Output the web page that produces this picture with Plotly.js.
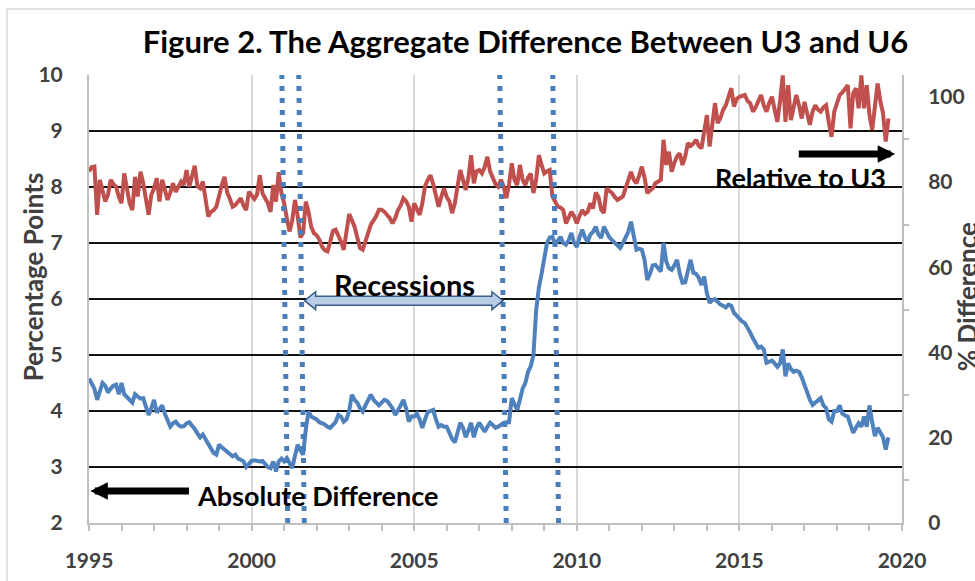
<!DOCTYPE html>
<html><head><meta charset="utf-8">
<script src="https://cdn.plot.ly/plotly-3.0.1.min.js"></script>
<style>html,body{margin:0;padding:0;background:#fff;}</style>
</head><body>
<div id="chart" style="width:975px;height:581px;"></div>
<script>
// ---- data (monthly, Jan 1995 onward) ----
const startYear = 1995;
// Absolute difference U6 - U3 (percentage points, left axis)
const absoluteDiff = [
  4.58,4.5,4.4,4.2,4.35,4.5,4.45,4.33,4.4,4.45,4.47,4.3,
  4.5,4.3,4.25,4.2,4.15,4.3,4.25,4.22,4.23,4.1,3.93,4.05,
  4.2,3.97,4.05,4.1,3.95,3.85,3.72,3.78,3.81,3.75,3.72,3.73,
  3.78,3.8,3.75,3.68,3.6,3.53,3.58,3.5,3.4,3.31,3.25,3.22,
  3.4,3.35,3.31,3.25,3.22,3.19,3.22,3.15,3.13,3.1,3.0,3.05,
  3.11,3.12,3.11,3.1,3.11,3.05,3.0,2.98,3.1,2.92,3.1,3.15,
  3.1,3.16,3.05,2.98,3.2,3.4,3.3,3.22,3.67,3.99,3.9,3.88,
  3.85,3.8,3.78,3.76,3.72,3.7,3.75,3.8,3.93,3.9,3.81,3.85,
  4.0,4.29,4.2,4.15,4.05,3.99,4.1,4.2,4.29,4.2,4.15,4.1,
  4.15,4.2,4.18,4.1,4.05,3.93,4.0,4.1,4.2,4.05,3.81,3.9,
  3.9,3.95,3.85,3.7,3.85,3.98,4.0,4.02,3.85,3.72,3.75,3.72,
  3.72,3.6,3.5,3.44,3.6,3.79,3.7,3.53,3.65,3.79,3.53,3.7,
  3.79,3.7,3.63,3.72,3.79,3.75,3.7,3.72,3.76,3.79,3.8,3.8,
  4.23,4.1,4.02,4.2,4.4,4.5,4.7,4.8,5.0,5.8,6.2,6.45,
  6.7,7.0,7.1,7.11,6.97,7.05,7.11,7.0,6.97,7.05,7.18,7.0,
  6.93,7.1,7.24,7.1,7.02,7.15,7.2,7.29,7.15,7.09,7.29,7.2,
  7.1,7.05,7.0,6.95,6.91,7.0,7.1,7.2,7.38,7.1,6.88,6.9,
  6.88,6.7,6.34,6.45,6.6,6.61,6.55,6.49,7.0,6.67,6.55,6.52,
  6.6,6.7,6.45,6.29,6.3,6.5,6.7,6.47,6.45,6.38,6.25,6.4,
  6.1,5.93,5.98,6.0,5.95,5.9,5.88,5.85,5.9,5.88,5.75,5.7,
  5.63,5.6,5.57,5.5,5.4,5.3,5.2,5.13,5.15,5.1,4.86,4.88,
  4.9,4.85,4.79,4.85,5.1,4.62,4.85,4.75,4.7,4.72,4.7,4.6,
  4.45,4.33,4.2,4.11,4.15,4.2,4.23,4.1,4.05,3.85,3.81,4.0,
  4.0,4.1,3.95,3.92,3.9,3.75,3.61,3.7,3.78,3.72,3.9,3.72,
  4.1,3.8,3.55,3.7,3.6,3.53,3.31,3.53
];
// Difference relative to U3 (% difference, right axis)
const relativeDiff = [
  82.5,83.5,83.6,72.3,80.5,78.0,75.4,77.0,80.5,79.5,78.9,76.5,
  75.0,82.0,78.5,75.0,73.4,81.2,76.6,82.4,79.8,76.0,72.3,77.0,
  78.5,80.9,75.4,80.5,78.0,75.8,77.5,79.7,77.7,79.0,80.1,79.3,
  82.8,78.9,81.0,83.8,79.0,78.5,80.1,76.0,71.9,73.0,73.4,74.2,
  77.0,79.3,81.2,77.5,76.0,74.2,74.6,75.5,76.2,74.5,73.4,77.7,
  77.0,76.0,77.0,81.6,77.4,76.0,75.0,73.0,79.3,75.4,82.3,77.4,
  75.0,71.5,68.4,71.0,75.8,72.0,67.0,68.0,75.4,73.0,69.5,68.0,
  67.5,66.5,64.8,64.0,63.7,66.0,68.5,68.8,67.5,66.0,64.1,68.0,
  72.5,71.0,69.5,67.0,64.5,64.1,66.0,67.5,70.0,71.0,72.0,73.5,
  73.5,73.0,72.3,71.5,70.3,71.5,73.4,74.5,76.2,75.5,74.2,70.7,
  75.0,73.5,72.3,75.0,79.0,80.5,81.6,79.5,76.5,74.2,76.5,78.5,
  76.5,75.4,72.7,75.0,79.0,82.8,80.5,78.1,81.0,86.3,79.7,82.5,
  82.8,82.0,83.5,85.9,82.5,81.2,79.5,78.9,80.5,79.0,76.2,79.5,
  84.4,80.5,79.3,84.0,80.5,79.3,81.0,82.0,77.4,80.5,86.3,84.0,
  82.0,82.5,82.8,76.6,75.5,74.2,74.0,73.4,70.3,71.5,73.0,72.0,
  70.3,72.0,73.4,72.5,73.0,75.0,73.8,77.5,76.5,73.5,72.7,78.5,
  78.0,77.4,76.5,75.8,76.2,76.6,78.5,80.5,82.4,80.5,79.7,81.5,
  83.6,81.0,77.4,78.0,78.5,79.7,80.0,80.5,89.9,84.0,87.1,82.4,
  84.5,86.0,86.7,84.0,86.0,89.1,88.5,89.0,89.9,88.5,87.9,92.0,
  95.7,88.3,94.0,98.5,93.8,95.0,96.9,98.0,100.0,102.0,97.7,99.5,
  100.0,100.2,100.4,99.0,98.5,96.5,97.5,99.0,100.4,98.0,96.5,98.5,
  100.0,97.0,94.1,99.0,105.0,94.1,102.7,94.5,97.0,100.4,98.0,94.9,
  98.8,96.0,93.4,96.5,98.0,97.0,96.5,97.5,98.0,94.0,90.6,96.5,
  98.8,100.4,101.0,102.0,102.7,92.6,100.8,102.0,97.3,105.0,97.3,102.7,
  95.7,92.2,98.0,103.1,99.0,96.1,89.5,94.9
];
// Recession boundary markers (decimal years) as drawn (top / bottom of the chart)
const recessionTopX    = [2000.93, 2001.45, 2007.63, 2009.26];
const recessionBottomX = [2001.11, 2001.62, 2007.83, 2009.44];
const recessionArrowFrom = 2001.63, recessionArrowTo = 2007.73, recessionArrowLevel = 5.97;
const titleText = 'Figure 2. The Aggregate Difference Between U3 and U6';
const leftTitle = 'Percentage Points';
const rightTitle = '% Difference';

// ---- build ----
const months = absoluteDiff.map((_, i) => startYear + i / 12);
const FONT = 'Lato, "Open Sans", "DejaVu Sans", sans-serif';
const LBL = '#404040';
const AX = '#bfbfbf';

const traces = [
  {x: months, y: absoluteDiff, type: 'scatter', mode: 'lines', yaxis: 'y',
   line: {color: '#4f81bd', width: 4}, hoverinfo: 'skip'},
  {x: months.slice(0, relativeDiff.length), y: relativeDiff, type: 'scatter', mode: 'lines', yaxis: 'y2',
   line: {color: '#c0504d', width: 4}, hoverinfo: 'skip'}
];

const shapes = [];
// outer chart-area frame
shapes.push({type: 'rect', xref: 'paper', yref: 'paper', x0: -0.1009, x1: 1.3, y0: -0.3, y1: 1.1473,
  line: {color: '#d9d9d9', width: 1.5}, fillcolor: 'rgba(0,0,0,0)', layer: 'below'});
recessionTopX.forEach((xt, k) => {
  shapes.push({type: 'line', xref: 'x', yref: 'paper', x0: recessionBottomX[k], y0: 0, x1: xt, y1: 1,
    line: {color: '#4a7ebb', width: 5, dash: '5px,7px'}, layer: 'above'});
});
// double-headed block arrow spanning the recessions
(function(){
  const a = recessionArrowFrom, b = recessionArrowTo, c = recessionArrowLevel;
  const hl = 0.34, hh = 0.16, sh = 0.08;
  const p = `M${a},${c} L${a+hl},${c+hh} L${a+hl},${c+sh} L${b-hl},${c+sh} L${b-hl},${c+hh} L${b},${c} ` +
            `L${b-hl},${c-hh} L${b-hl},${c-sh} L${a+hl},${c-sh} L${a+hl},${c-hh} Z`;
  shapes.push({type: 'path', xref: 'x', yref: 'y', path: p, fillcolor: '#b9cde5',
    line: {color: '#385d8a', width: 1.5}, layer: 'above'});
})();

const annFont = {family: FONT, size: 27, color: '#000', weight: 'bold'};
const annotations = [
  {xref: 'x', yref: 'y', x: 2004.70, y: 6.26, text: '<b>Recessions</b>', showarrow: false, font: Object.assign({}, annFont, {size: 29}), xanchor: 'center', yanchor: 'middle'},
  {xref: 'x', yref: 'y', x: 2016.87, y: 8.17, text: '<b>Relative to U3</b>', showarrow: false, font: annFont, xanchor: 'center', yanchor: 'middle'},
  {xref: 'x', yref: 'y', x: 2002.04, y: 2.49, text: '<b>Absolute Difference</b>', showarrow: false, font: annFont, xanchor: 'center', yanchor: 'middle'},
  {xref: 'x', yref: 'y', axref: 'x', ayref: 'y', x: 2019.79, y: 8.59, ax: 2016.78, ay: 8.59, text: '',
   showarrow: true, arrowhead: 2, arrowsize: 0.5, arrowwidth: 7, arrowcolor: '#000', standoff: 0},
  {xref: 'x', yref: 'y', axref: 'x', ayref: 'y', x: 1995.04, y: 2.57, ax: 1998.12, ay: 2.57, text: '',
   showarrow: true, arrowhead: 2, arrowsize: 0.5, arrowwidth: 7, arrowcolor: '#000', standoff: 0},
  {xref: 'paper', yref: 'paper', x: -0.0689, y: 0.551, text: '<b>' + leftTitle + '</b>', textangle: -90, showarrow: false,
   font: {family: FONT, size: 26, color: LBL, weight: 'bold'}, xanchor: 'center', yanchor: 'middle'},
  {xref: 'paper', yref: 'paper', x: 1.08, y: 0.504, text: '<b>' + rightTitle + '</b>', textangle: -90, showarrow: false,
   font: {family: FONT, size: 26, color: LBL, weight: 'bold'}, xanchor: 'center', yanchor: 'middle'}
];

const tickFont = {family: FONT, size: 21, color: LBL, weight: 'bold'};
const layout = {
  width: 975, height: 581,
  margin: {l: 89, r: 73, t: 75, b: 58},
  paper_bgcolor: '#fff', plot_bgcolor: 'rgba(0,0,0,0)',
  showlegend: false,
  font: {family: FONT, color: LBL},
  title: {text: '<b>' + titleText + '</b>', font: {family: FONT, size: 31, color: '#000', weight: 'bold'},
          x: 0.539, xanchor: 'center', y: 0.928, yanchor: 'middle'},
  xaxis: {range: [1995, 2020], tickmode: 'linear', tick0: 1995, dtick: 5,
          showgrid: true, gridcolor: '#d9d9d9', gridwidth: 2,
          showline: true, linecolor: AX, linewidth: 2, zeroline: false,
          ticks: 'outside', ticklen: 6, tickwidth: 2, tickcolor: AX,
          minor: {dtick: 1, tick0: 1995, ticks: 'outside', ticklen: 6, tickwidth: 2, tickcolor: AX, showgrid: false},
          tickfont: tickFont, ticklabelstandoff: 12, fixedrange: true},
  yaxis: {range: [2, 10], tickmode: 'linear', tick0: 2, dtick: 1,
          showgrid: true, gridcolor: '#111', gridwidth: 1.3,
          showline: true, linecolor: AX, linewidth: 2, zeroline: false, ticks: '',
          tickfont: tickFont, ticklabelstandoff: 20, fixedrange: true},
  yaxis2: {range: [0, 105.1], overlaying: 'y', side: 'right', tickmode: 'linear', tick0: 0, dtick: 20,
          showgrid: false, showline: true, linecolor: AX, linewidth: 2, zeroline: false, ticks: '',
          minor: {dtick: 10, tick0: 0, ticks: 'outside', ticklen: 5, tickwidth: 2, tickcolor: AX, showgrid: false},
          tickfont: tickFont, ticklabelstandoff: 20, fixedrange: true},
  shapes: shapes,
  annotations: annotations
};

Plotly.newPlot('chart', traces, layout, {staticPlot: true, displayModeBar: false});
</script>
</body></html>
